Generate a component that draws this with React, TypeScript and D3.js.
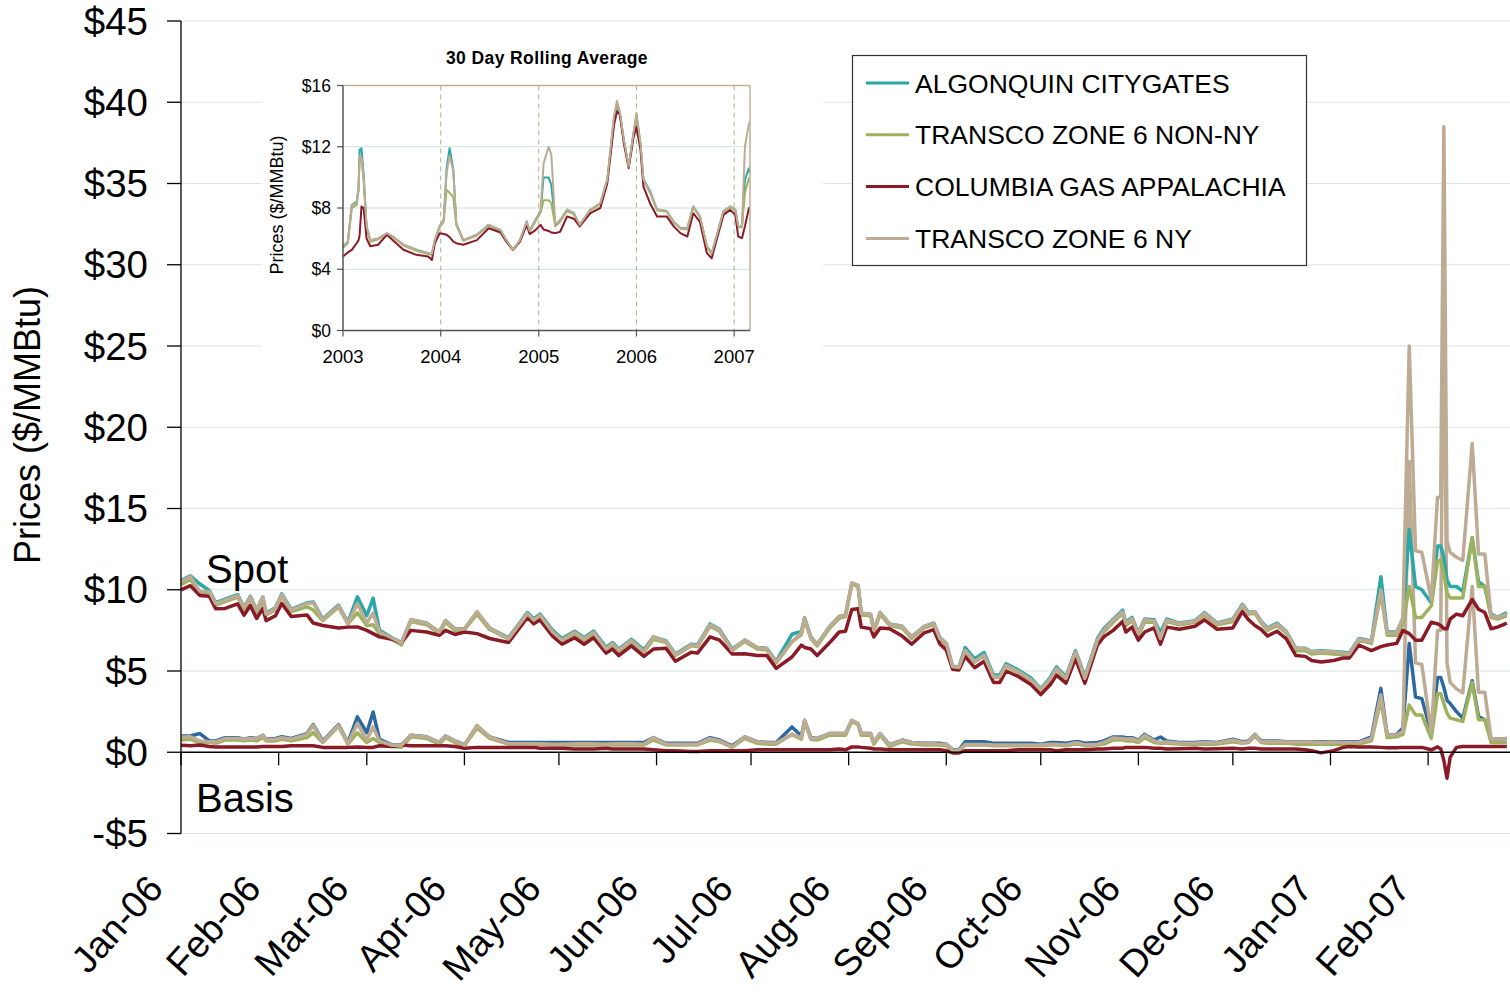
import * as d3 from 'd3';

const W = 1510;
const H = 995;
const FONT = '"Liberation Sans", Arial, Helvetica, sans-serif';

// ---- main chart: daily spot and basis, Jan-06 .. Feb-07 ----
const mainDates = [
  '2006-01-01', '2006-01-04', '2006-01-07', '2006-01-10', '2006-01-12', '2006-01-15', '2006-01-19', '2006-01-21',
  '2006-01-23', '2006-01-25', '2006-01-27', '2006-01-28', '2006-01-31', '2006-02-02', '2006-02-05', '2006-02-10',
  '2006-02-12', '2006-02-15', '2006-02-20', '2006-02-23', '2006-02-26', '2006-03-01', '2006-03-03', '2006-03-05',
  '2006-03-09', '2006-03-12', '2006-03-15', '2006-03-20', '2006-03-24', '2006-03-26', '2006-03-29', '2006-04-01',
  '2006-04-05', '2006-04-09', '2006-04-15', '2006-04-21', '2006-04-23', '2006-04-25', '2006-04-29', '2006-05-02',
  '2006-05-06', '2006-05-09', '2006-05-12', '2006-05-16', '2006-05-18', '2006-05-20', '2006-05-24', '2006-05-28',
  '2006-05-31', '2006-06-04', '2006-06-07', '2006-06-12', '2006-06-14', '2006-06-18', '2006-06-21', '2006-06-25',
  '2006-06-29', '2006-07-03', '2006-07-06', '2006-07-09', '2006-07-14', '2006-07-17', '2006-07-18', '2006-07-20',
  '2006-07-22', '2006-07-26', '2006-07-29', '2006-07-31', '2006-08-02', '2006-08-04', '2006-08-05', '2006-08-08',
  '2006-08-09', '2006-08-11', '2006-08-14', '2006-08-18', '2006-08-21', '2006-08-25', '2006-08-28', '2006-08-30',
  '2006-09-01', '2006-09-03', '2006-09-05', '2006-09-07', '2006-09-10', '2006-09-13', '2006-09-16', '2006-09-18',
  '2006-09-20', '2006-09-24', '2006-09-28', '2006-10-01', '2006-10-04', '2006-10-06', '2006-10-09', '2006-10-12',
  '2006-10-13', '2006-10-15', '2006-10-19', '2006-10-21', '2006-10-24', '2006-10-27', '2006-10-28', '2006-10-30',
  '2006-11-01', '2006-11-03', '2006-11-06', '2006-11-08', '2006-11-10', '2006-11-14', '2006-11-19', '2006-11-22',
  '2006-11-26', '2006-12-01', '2006-12-04', '2006-12-06', '2006-12-08', '2006-12-10', '2006-12-12', '2006-12-15',
  '2006-12-18', '2006-12-21', '2006-12-24', '2006-12-26', '2006-12-29', '2007-01-02', '2007-01-05', '2007-01-07',
  '2007-01-10', '2007-01-14', '2007-01-17', '2007-01-19', '2007-01-22', '2007-01-24', '2007-01-26', '2007-01-28',
  '2007-01-30', '2007-02-02', '2007-02-04', '2007-02-05', '2007-02-06', '2007-02-07', '2007-02-08', '2007-02-10',
  '2007-02-12', '2007-02-15', '2007-02-17', '2007-02-19', '2007-02-21', '2007-02-23', '2007-02-26',
];

const algonquinSpot = [
  10.56, 10.85, 10.35, 9.95, 9.2, 9.42, 9.7, 8.9, 9.6, 8.75, 9.55, 8.55, 8.9, 9.75, 8.8, 9.2,
  9.25, 8.2, 9.05, 8.0, 9.56, 8.4, 9.48, 7.5, 7.05, 6.75, 8.15, 7.95, 7.4, 8.1, 7.6, 7.6,
  8.6, 7.65, 7.05, 8.6, 8.2, 8.5, 7.5, 7.0, 7.45, 7.05, 7.45, 6.45, 6.75, 6.35, 6.95, 6.3,
  7.1, 6.85, 6.05, 6.65, 6.6, 7.9, 7.55, 6.35, 6.9, 6.45, 6.4, 5.6, 7.26, 7.44, 8.27, 7.1,
  6.65, 7.75, 8.35, 8.45, 10.4, 10.25, 8.55, 8.5, 7.5, 8.6, 7.9, 7.75, 7.1, 7.75, 7.95, 7.05,
  6.7, 5.3, 5.25, 6.44, 5.74, 6.14, 4.75, 4.75, 5.45, 5.05, 4.55, 3.9, 4.6, 5.25, 4.65, 6.25,
  5.75, 4.65, 7.0, 7.6, 8.19, 8.74, 8.0, 8.3, 7.35, 8.2, 8.15, 7.34, 8.2, 7.95, 8.1, 8.6,
  7.95, 8.2, 9.1, 8.6, 8.65, 8.05, 7.65, 7.95, 7.43, 6.4, 6.4, 6.2, 6.25, 6.2, 6.15, 6.1,
  7.0, 6.85, 10.8, 7.4, 7.4, 8.2, 13.7, 10.2, 10.0, 9.2, 12.7, 12.7, 12.0, 10.6, 10.2, 10.2,
  9.9, 13.2, 10.5, 10.2, 8.5, 8.3, 8.6,
];
const transcoNonNySpot = [
  10.31, 10.65, 9.8, 9.85, 9.05, 9.27, 9.55, 8.8, 9.45, 8.6, 9.4, 8.45, 8.75, 9.6, 8.65, 8.95,
  8.75, 8.1, 8.95, 7.9, 8.58, 7.8, 7.84, 7.3, 6.95, 6.6, 8.05, 7.85, 7.3, 8.0, 7.5, 7.55,
  8.5, 7.55, 6.95, 8.5, 8.1, 8.4, 7.35, 6.85, 7.3, 6.9, 7.3, 6.3, 6.6, 6.2, 6.8, 6.15,
  6.95, 6.75, 5.95, 6.55, 6.5, 7.75, 7.45, 6.25, 6.81, 6.35, 6.3, 5.5, 6.8, 7.24, 8.2, 7.0,
  6.55, 7.65, 8.25, 8.35, 10.35, 10.2, 8.45, 8.4, 7.4, 8.5, 7.8, 7.65, 7.0, 7.65, 7.85, 6.95,
  6.6, 5.25, 5.2, 6.25, 5.55, 5.95, 4.6, 4.6, 5.3, 4.9, 4.4, 3.8, 4.45, 5.1, 4.5, 6.1,
  5.6, 4.5, 6.85, 7.4, 8.0, 8.55, 7.8, 8.1, 7.2, 8.0, 8.0, 6.95, 8.05, 7.85, 8.0, 8.45,
  7.85, 8.05, 9.0, 8.5, 8.55, 7.95, 7.5, 7.8, 7.33, 6.25, 6.25, 6.05, 6.1, 6.05, 6.0, 5.95,
  6.9, 6.7, 9.8, 7.2, 7.2, 7.9, 10.2, 8.3, 8.3, 9.0, 11.8, 11.8, 11.0, 9.8, 9.5, 9.5,
  9.5, 13.2, 10.2, 10.2, 8.3, 8.2, 8.4,
];
const columbiaSpot = [
  9.99, 10.25, 9.65, 9.6, 8.83, 8.85, 9.13, 8.43, 9.03, 8.23, 8.85, 8.1, 8.4, 9.15, 8.35, 8.45,
  7.95, 7.8, 7.65, 7.7, 7.71, 7.5, 7.3, 7.1, 6.95, 6.75, 7.5, 7.4, 7.2, 7.5, 7.25, 7.4,
  7.3, 7.0, 6.75, 8.3, 7.9, 8.15, 7.15, 6.65, 7.05, 6.65, 7.05, 6.1, 6.35, 5.95, 6.55, 5.9,
  6.35, 6.4, 5.6, 6.15, 6.1, 7.1, 6.9, 6.05, 6.06, 5.96, 5.96, 5.16, 5.86, 6.59, 6.45, 6.35,
  5.95, 6.75, 7.4, 7.45, 8.78, 8.83, 7.7, 7.6, 7.1, 7.65, 7.6, 7.15, 6.65, 7.35, 7.55, 6.65,
  6.3, 5.11, 5.06, 5.9, 5.2, 5.6, 4.3, 4.3, 5.0, 4.65, 4.15, 3.55, 4.15, 4.75, 4.25, 5.75,
  5.25, 4.25, 6.6, 7.1, 7.5, 8.05, 7.4, 7.7, 6.9, 7.4, 7.65, 6.65, 7.7, 7.57, 7.75, 8.15,
  7.57, 7.65, 8.65, 8.15, 7.8, 7.55, 7.15, 7.45, 6.98, 5.95, 5.9, 5.65, 5.56, 5.65, 5.8, 5.8,
  6.6, 6.26, 6.5, 6.6, 6.7, 7.5, 7.3, 6.9, 6.9, 8.0, 7.9, 7.8, 7.6, 7.6, 8.2, 8.5,
  8.4, 9.4, 8.8, 8.6, 7.6, 7.7, 7.95,
];
const transcoNySpot = [
  10.5, 10.8, 9.9, 9.89, 9.14, 9.36, 9.64, 8.9, 9.55, 8.74, 9.55, 8.5, 8.85, 9.7, 8.75, 9.15,
  9.2, 8.14, 9.01, 7.93, 9.15, 7.95, 8.56, 7.4, 7.03, 6.73, 8.15, 7.94, 7.4, 8.1, 7.6, 7.58,
  8.66, 7.64, 6.98, 8.53, 8.13, 8.43, 7.4, 6.9, 7.38, 6.98, 7.38, 6.35, 6.68, 6.28, 6.88, 6.2,
  7.1, 6.8, 6.0, 6.6, 6.55, 7.84, 7.5, 6.28, 6.9, 6.44, 6.37, 5.57, 6.8, 7.34, 8.27, 7.04,
  6.64, 7.75, 8.35, 8.45, 10.42, 10.27, 8.55, 8.5, 7.5, 8.6, 7.88, 7.74, 7.1, 7.73, 7.93, 7.0,
  6.7, 5.27, 5.22, 6.27, 5.57, 5.97, 4.65, 4.65, 5.35, 4.95, 4.45, 3.85, 4.5, 5.15, 4.55, 6.18,
  5.67, 4.55, 6.9, 7.5, 8.13, 8.64, 7.92, 8.23, 7.3, 8.15, 8.1, 7.0, 8.13, 7.92, 8.05, 8.55,
  7.92, 8.15, 9.05, 8.54, 8.65, 7.99, 7.59, 7.89, 7.41, 6.38, 6.38, 6.18, 6.2, 6.18, 6.1, 6.05,
  6.95, 6.8, 10.0, 7.33, 7.35, 8.3, 25.0, 12.4, 12.3, 9.4, 15.7, 15.7, 38.5, 13.0, 12.3, 12.0,
  11.8, 19.0, 12.2, 12.2, 8.4, 8.3, 8.5,
];

const algonquinBasis = [
  1.0, 1.0, 1.15, 0.7, 0.7, 0.9, 0.9, 0.8, 0.9, 0.85, 1.05, 0.8, 0.85, 0.95, 0.85, 1.15,
  1.7, 0.7, 1.7, 0.6, 2.18, 1.2, 2.48, 0.8, 0.45, 0.45, 1.05, 0.95, 0.6, 1.0, 0.7, 0.45,
  1.6, 0.95, 0.6, 0.6, 0.6, 0.6, 0.6, 0.6, 0.6, 0.6, 0.6, 0.6, 0.6, 0.6, 0.6, 0.6,
  0.9, 0.55, 0.55, 0.55, 0.55, 0.9, 0.75, 0.4, 0.94, 0.65, 0.6, 0.6, 1.56, 1.0, 1.97, 0.9,
  0.85, 1.15, 1.15, 1.15, 1.95, 1.75, 1.15, 1.15, 0.6, 1.15, 0.45, 0.75, 0.6, 0.55, 0.55, 0.55,
  0.5, 0.15, 0.15, 0.64, 0.64, 0.64, 0.55, 0.55, 0.55, 0.55, 0.55, 0.5, 0.6, 0.6, 0.55, 0.65,
  0.65, 0.55, 0.6, 0.7, 0.94, 0.94, 0.9, 0.9, 0.75, 1.1, 0.75, 0.94, 0.7, 0.6, 0.6, 0.65,
  0.6, 0.8, 0.65, 0.7, 1.1, 0.7, 0.7, 0.7, 0.65, 0.65, 0.65, 0.65, 0.65, 0.65, 0.65, 0.65,
  0.64, 0.95, 3.93, 1.06, 1.1, 1.5, 6.7, 3.4, 3.3, 1.2, 4.6, 4.6, 4.0, 3.2, 3.0, 2.5,
  2.1, 4.4, 2.2, 2.0, 0.85, 0.8, 0.85,
];
const transcoNonNyBasis = [
  0.75, 0.8, 0.6, 0.6, 0.55, 0.75, 0.75, 0.7, 0.75, 0.7, 0.9, 0.7, 0.7, 0.8, 0.7, 0.9,
  1.2, 0.6, 1.6, 0.5, 1.2, 0.6, 0.84, 0.6, 0.35, 0.3, 0.95, 0.85, 0.5, 0.9, 0.6, 0.4,
  1.5, 0.85, 0.5, 0.5, 0.5, 0.5, 0.45, 0.45, 0.45, 0.45, 0.45, 0.45, 0.45, 0.45, 0.45, 0.45,
  0.75, 0.45, 0.45, 0.45, 0.45, 0.75, 0.65, 0.3, 0.85, 0.55, 0.5, 0.5, 1.1, 0.8, 1.9, 0.8,
  0.75, 1.05, 1.05, 1.05, 1.9, 1.7, 1.05, 1.05, 0.5, 1.05, 0.35, 0.65, 0.5, 0.45, 0.45, 0.45,
  0.4, 0.1, 0.1, 0.45, 0.45, 0.45, 0.4, 0.4, 0.4, 0.4, 0.4, 0.4, 0.45, 0.45, 0.4, 0.5,
  0.5, 0.4, 0.45, 0.5, 0.75, 0.75, 0.7, 0.7, 0.6, 0.9, 0.6, 0.55, 0.55, 0.5, 0.5, 0.5,
  0.5, 0.65, 0.55, 0.6, 1.0, 0.6, 0.55, 0.55, 0.55, 0.5, 0.5, 0.5, 0.5, 0.5, 0.5, 0.5,
  0.5, 0.7, 3.2, 0.9, 0.95, 1.1, 2.9, 2.3, 2.3, 0.85, 3.6, 3.6, 3.0, 2.4, 2.1, 2.0,
  1.9, 4.3, 2.0, 2.0, 0.6, 0.6, 0.6,
];
const columbiaBasis = [
  0.43, 0.4, 0.45, 0.35, 0.33, 0.33, 0.33, 0.33, 0.33, 0.33, 0.35, 0.35, 0.35, 0.35, 0.4, 0.4,
  0.4, 0.3, 0.3, 0.3, 0.33, 0.3, 0.3, 0.4, 0.35, 0.45, 0.4, 0.4, 0.4, 0.4, 0.35, 0.25,
  0.3, 0.3, 0.3, 0.3, 0.3, 0.25, 0.25, 0.25, 0.2, 0.2, 0.2, 0.25, 0.2, 0.2, 0.2, 0.2,
  0.15, 0.1, 0.1, 0.05, 0.05, 0.1, 0.1, 0.1, 0.1, 0.16, 0.16, 0.16, 0.16, 0.15, 0.15, 0.15,
  0.15, 0.15, 0.2, 0.15, 0.33, 0.33, 0.3, 0.25, 0.2, 0.2, 0.15, 0.15, 0.15, 0.15, 0.15, 0.15,
  0.1, -0.04, -0.04, 0.1, 0.1, 0.1, 0.1, 0.1, 0.1, 0.15, 0.15, 0.15, 0.15, 0.1, 0.15, 0.15,
  0.15, 0.15, 0.2, 0.2, 0.25, 0.25, 0.3, 0.3, 0.3, 0.3, 0.25, 0.25, 0.2, 0.22, 0.25, 0.2,
  0.22, 0.25, 0.2, 0.25, 0.25, 0.2, 0.2, 0.2, 0.2, 0.2, 0.15, 0.1, -0.04, 0.1, 0.3, 0.35,
  0.33, 0.33, 0.3, 0.27, 0.27, 0.3, 0.3, 0.3, 0.3, 0.15, 0.33, 0.2, -0.5, -1.6, -0.3, 0.3,
  0.35, 0.35, 0.35, 0.35, 0.35, 0.35, 0.35,
];
const transcoNyBasis = [
  0.94, 0.95, 0.7, 0.64, 0.64, 0.84, 0.84, 0.8, 0.85, 0.84, 1.05, 0.75, 0.8, 0.9, 0.8, 1.1,
  1.65, 0.64, 1.66, 0.53, 1.77, 0.75, 1.56, 0.7, 0.43, 0.43, 1.05, 0.94, 0.6, 1.0, 0.7, 0.43,
  1.66, 0.94, 0.53, 0.53, 0.53, 0.53, 0.5, 0.5, 0.53, 0.53, 0.53, 0.5, 0.53, 0.53, 0.53, 0.5,
  0.9, 0.5, 0.5, 0.5, 0.5, 0.84, 0.7, 0.33, 0.94, 0.64, 0.57, 0.57, 1.1, 0.9, 1.97, 0.84,
  0.84, 1.15, 1.15, 1.15, 1.97, 1.77, 1.15, 1.15, 0.6, 1.15, 0.43, 0.74, 0.6, 0.53, 0.53, 0.5,
  0.5, 0.12, 0.12, 0.47, 0.47, 0.47, 0.45, 0.45, 0.45, 0.45, 0.45, 0.45, 0.5, 0.5, 0.45, 0.58,
  0.57, 0.45, 0.5, 0.6, 0.88, 0.84, 0.82, 0.83, 0.7, 1.05, 0.7, 0.6, 0.63, 0.57, 0.55, 0.6,
  0.57, 0.75, 0.6, 0.64, 1.1, 0.64, 0.64, 0.64, 0.63, 0.63, 0.63, 0.63, 0.6, 0.63, 0.6, 0.6,
  0.6, 0.84, 3.53, 1.06, 1.06, 1.3, 17.9, 5.5, 5.4, 1.2, 7.5, 7.5, 30.8, 5.5, 4.3, 3.9,
  3.66, 10.2, 3.7, 3.7, 0.84, 0.8, 0.84,
];

// ---- inset: 30 day rolling average, 2003 .. Feb-07 ----
const insetDates = [
  '2003-01-01', '2003-01-19', '2003-02-03', '2003-02-21', '2003-02-28', '2003-03-04', '2003-03-11', '2003-03-19',
  '2003-03-30', '2003-04-13', '2003-05-12', '2003-06-14', '2003-07-06', '2003-08-15', '2003-10-02', '2003-11-15',
  '2003-11-29', '2003-12-10', '2003-12-28', '2004-01-12', '2004-01-23', '2004-02-03', '2004-02-17', '2004-02-28',
  '2004-03-25', '2004-05-15', '2004-06-28', '2004-08-11', '2004-09-02', '2004-09-27', '2004-10-23', '2004-11-17',
  '2004-11-28', '2004-12-16', '2005-01-08', '2005-01-19', '2005-02-07', '2005-02-17', '2005-03-04', '2005-03-22',
  '2005-04-17', '2005-05-12', '2005-06-03', '2005-07-13', '2005-08-19', '2005-09-14', '2005-10-09', '2005-10-20',
  '2005-10-31', '2005-11-15', '2005-12-03', '2005-12-21', '2006-01-01', '2006-01-16', '2006-01-27', '2006-02-21',
  '2006-03-19', '2006-04-24', '2006-05-20', '2006-06-14', '2006-07-10', '2006-08-01', '2006-08-26', '2006-09-21',
  '2006-10-09', '2006-10-27', '2006-11-22', '2006-12-17', '2007-01-05', '2007-01-16', '2007-01-30', '2007-02-10',
  '2007-02-25', '2007-02-28',
];
const insetAlgonquin = [
  5.5, 5.8, 8.2, 8.4, 9.3, 11.8, 11.9, 10.2, 6.8, 5.9, 6.0, 6.35, 6.14, 5.6, 5.27, 5.05,
  5.0, 5.9, 6.8, 7.2, 10.6, 11.9, 10.5, 7.0, 5.9, 6.25, 6.9, 6.57, 5.9, 5.27, 5.9, 7.12,
  6.5, 7.1, 7.8, 10.0, 10.0, 9.5, 6.9, 7.2, 7.9, 7.66, 6.9, 7.9, 8.3, 9.84, 13.8, 14.6,
  14.1, 12.4, 10.7, 12.9, 14.0, 12.2, 9.9, 9.1, 7.9, 7.8, 7.1, 6.7, 6.7, 8.1, 7.45, 5.5,
  5.05, 6.14, 7.8, 8.1, 7.9, 6.8, 6.8, 9.84, 10.6, 10.3,
];
const insetTranscoNonNy = [
  5.4, 5.7, 8.0, 8.2, 9.1, 11.2, 11.3, 9.8, 6.7, 5.8, 5.95, 6.3, 6.1, 5.55, 5.2, 5.0,
  4.95, 5.85, 6.75, 7.1, 9.2, 9.0, 8.7, 6.9, 5.85, 6.2, 6.85, 6.5, 5.85, 5.25, 5.85, 7.0,
  6.45, 7.0, 7.7, 8.5, 8.5, 8.3, 6.8, 7.1, 7.8, 7.6, 6.85, 7.85, 8.25, 9.8, 13.8, 14.7,
  14.2, 12.4, 10.7, 12.8, 14.0, 12.1, 9.8, 9.0, 7.85, 7.75, 7.05, 6.65, 6.6, 8.05, 7.4, 5.45,
  5.0, 6.1, 7.75, 8.05, 7.85, 6.75, 6.75, 9.0, 9.95, 9.9,
];
const insetColumbia = [
  4.83, 5.1, 5.27, 5.7, 5.9, 6.2, 8.1, 8.0, 6.0, 5.5, 5.6, 6.25, 5.9, 5.27, 4.94, 4.83,
  4.6, 5.7, 6.35, 6.3, 6.25, 6.1, 5.8, 5.7, 5.6, 5.9, 6.68, 6.4, 5.8, 5.27, 5.8, 6.9,
  6.3, 6.5, 6.9, 6.6, 6.5, 6.4, 6.36, 6.45, 7.45, 7.3, 6.8, 7.66, 8.0, 9.6, 13.4, 14.3,
  14.1, 12.2, 10.6, 12.6, 13.3, 11.8, 9.4, 8.3, 7.45, 7.45, 6.8, 6.36, 6.14, 7.66, 7.1, 5.05,
  4.72, 5.9, 7.55, 7.88, 7.55, 6.14, 6.03, 6.8, 8.0, 8.0,
];
const insetTranscoNy = [
  5.49, 5.8, 8.2, 8.3, 9.3, 11.4, 11.3, 10.0, 6.8, 5.9, 6.0, 6.35, 6.14, 5.6, 5.27, 5.05,
  5.0, 5.9, 6.8, 7.2, 10.3, 11.4, 10.4, 7.0, 5.9, 6.25, 6.9, 6.57, 5.9, 5.27, 5.9, 7.12,
  6.5, 7.1, 7.8, 10.9, 12.0, 11.5, 6.9, 7.2, 7.9, 7.66, 6.9, 7.9, 8.3, 9.84, 14.0, 15.0,
  14.3, 12.45, 10.7, 12.9, 14.2, 12.2, 9.84, 9.0, 7.9, 7.8, 7.1, 6.7, 6.65, 8.1, 7.45, 5.5,
  5.05, 6.14, 7.8, 8.1, 7.9, 6.8, 6.8, 12.0, 13.5, 13.6,
];

const seriesNames = ['ALGONQUIN CITYGATES', 'TRANSCO ZONE 6 NON-NY', 'COLUMBIA GAS APPALACHIA', 'TRANSCO ZONE 6 NY'];
const seriesColors = ['#2ba6a9', '#9cb25c', '#8a1a26', '#bdab94'];
const basisColors = ['#2d68a1', '#9cb25c', '#8a1a26', '#bdab94'];

const priceTicks = [-5, 0, 5, 10, 15, 20, 25, 30, 35, 40, 45];
const monthLabels = [
  'Jan-06', 'Feb-06', 'Mar-06', 'Apr-06', 'May-06', 'Jun-06', 'Jul-06',
  'Aug-06', 'Sep-06', 'Oct-06', 'Nov-06', 'Dec-06', 'Jan-07', 'Feb-07',
];
const insetTicks = [0, 4, 8, 12, 16];
const insetYears = [2003, 2004, 2005, 2006, 2007];

const parse = d3.timeParse('%Y-%m-%d');
const money = (v: number) => (v < 0 ? `-$${Math.abs(v)}` : `$${v}`);

export default function App() {
  const x = d3.scaleTime()
    .domain([parse('2006-01-01')!, parse('2007-02-27')!])
    .range([181, 1510]);
  const y = d3.scaleLinear().domain([-5, 45]).range([833.5, 21]);

  const ix = d3.scaleTime()
    .domain([parse('2003-01-01')!, parse('2007-03-01')!])
    .range([343, 750]);
  const iy = d3.scaleLinear().domain([0, 16]).range([330.5, 85.5]);

  const mainX = mainDates.map(d => x(parse(d)!));
  const insetX = insetDates.map(d => ix(parse(d)!));

  const line = d3.line<number>().x((_, i) => mainX[i]).y(d => y(d));
  const insetLine = d3.line<number>().x((_, i) => insetX[i]).y(d => iy(d));

  const spot = [algonquinSpot, transcoNonNySpot, columbiaSpot, transcoNySpot];
  const basis = [algonquinBasis, transcoNonNyBasis, columbiaBasis, transcoNyBasis];
  const inset = [insetAlgonquin, insetTranscoNonNy, insetColumbia, insetTranscoNy];

  const monthTicks = d3.timeMonth.range(parse('2006-01-01')!, parse('2007-02-02')!);
  const y0 = y(0);

  return (
    <svg width={W} height={H} style={{ position: 'absolute', left: 0, top: 0, background: '#fff' }}
      fontFamily={FONT}>
      {/* gridlines */}
      {priceTicks.filter(t => t !== 0).map(t => (
        <line key={t} x1={181} x2={W} y1={y(t)} y2={y(t)} stroke="#d9e6e6" strokeWidth={1.2} />
      ))}

      {/* inset chart */}
      <rect x={262} y={38} width={561} height={337} fill="#fff" />
      {insetTicks.filter(t => t > 0 && t < 16).map(t => (
        <line key={t} x1={343} x2={750} y1={iy(t)} y2={iy(t)} stroke="#cfe1e3" strokeWidth={1} />
      ))}
      {insetYears.slice(1).map(yr => {
        const px = ix(new Date(yr, 0, 1));
        return <line key={yr} x1={px} x2={px} y1={iy(16)} y2={iy(0)} stroke="#b3ab92" strokeWidth={1} strokeDasharray="5,4" />;
      })}
      {inset.map((s, i) => (
        <path key={i} d={insetLine(s)!} fill="none" stroke={seriesColors[i]} strokeWidth={2} strokeLinejoin="round" />
      ))}
      <line x1={343} x2={750} y1={iy(16)} y2={iy(16)} stroke="#c2ae95" strokeWidth={1.5} />
      <line x1={750} x2={750} y1={iy(16)} y2={iy(0)} stroke="#c2ae95" strokeWidth={1.5} />
      <line x1={343} x2={343} y1={iy(16)} y2={iy(0)} stroke="#555" strokeWidth={1.5} />
      <line x1={343} x2={750} y1={iy(0)} y2={iy(0)} stroke="#555" strokeWidth={1.5} />
      {insetTicks.map(t => (
        <g key={t}>
          <line x1={337} x2={343} y1={iy(t)} y2={iy(t)} stroke="#555" strokeWidth={1.2} />
          <text x={331} y={iy(t) + 6} textAnchor="end" fontSize={17.5} fill="#000">{money(t)}</text>
        </g>
      ))}
      {insetYears.map(yr => {
        const px = ix(new Date(yr, 0, 1));
        return (
          <g key={yr}>
            <line x1={px} x2={px} y1={iy(0)} y2={iy(0) + 6} stroke="#555" strokeWidth={1.2} />
            <text x={px} y={363} textAnchor="middle" fontSize={18.5} fill="#000">{yr}</text>
          </g>
        );
      })}
      <text transform={`translate(283,205) rotate(-90)`} textAnchor="middle" fontSize={18} fill="#000">
        Prices ($/MMBtu)
      </text>
      <text x={547} y={64} textAnchor="middle" fontSize={17.5} fontWeight="bold" letterSpacing={0.4} fill="#000">
        30 Day Rolling Average
      </text>

      {/* legend */}
      <rect x={852.5} y={55.5} width={454} height={210} fill="#fff" stroke="#333" strokeWidth={1.2} />
      {seriesNames.map((n, i) => {
        const ry = 83 + i * 51.8;
        return (
          <g key={n}>
            <line x1={866} x2={909} y1={ry} y2={ry} stroke={seriesColors[i]} strokeWidth={3} />
            <text x={915} y={ry + 9.5} fontSize={26.5} fill="#000">{n}</text>
          </g>
        );
      })}

      {/* main series: basis then spot */}
      {basis.map((s, i) => (
        <path key={`b${i}`} d={line(s)!} fill="none" stroke={basisColors[i]} strokeWidth={3.5} strokeLinejoin="round" />
      ))}
      {spot.map((s, i) => (
        <path key={`s${i}`} d={line(s)!} fill="none" stroke={seriesColors[i]} strokeWidth={3.5} strokeLinejoin="round" />
      ))}

      {/* axes */}
      <line x1={181} x2={181} y1={y(45)} y2={y(-5)} stroke="#000" strokeWidth={1.3} />
      {priceTicks.map(t => (
        <g key={t}>
          <line x1={167} x2={181} y1={y(t)} y2={y(t)} stroke="#000" strokeWidth={1.3} />
          <text x={148} y={y(t) + 13.5} textAnchor="end" fontSize={38.5} fill="#000">{money(t)}</text>
        </g>
      ))}
      <line x1={181} x2={W} y1={y0} y2={y0} stroke="#000" strokeWidth={1.3} />
      {monthTicks.map((m, i) => {
        const px = x(m);
        return (
          <g key={i}>
            <line x1={px} x2={px} y1={y0} y2={y0 + 13} stroke="#000" strokeWidth={1.3} />
            <text transform={`translate(${px - 16},${890}) rotate(-48)`} textAnchor="end" fontSize={37.5} fill="#000">
              {monthLabels[i]}
            </text>
          </g>
        );
      })}

      <text transform="translate(40,425) rotate(-90)" textAnchor="middle" fontSize={36} fill="#000">
        Prices ($/MMBtu)
      </text>
      <text x={206} y={583} fontSize={40} fill="#000">Spot</text>
      <text x={196} y={812} fontSize={40} fill="#000">Basis</text>
    </svg>
  );
}
